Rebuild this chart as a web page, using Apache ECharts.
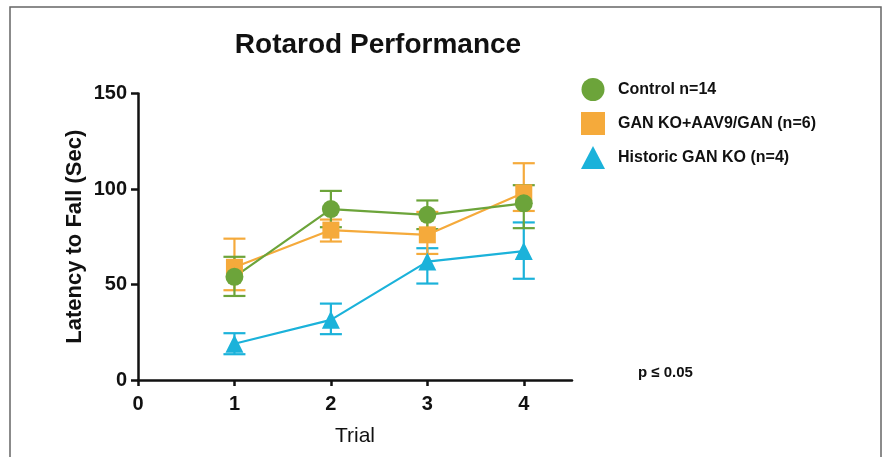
<!DOCTYPE html>
<html>
<head>
<meta charset="utf-8">
<script src="https://cdn.jsdelivr.net/npm/echarts@6/dist/echarts.min.js"></script>
<style>
html,body{margin:0;padding:0;background:#fff;}
#chart{width:887px;height:457px;}
</style>
</head>
<body>
<div id="chart"></div>
<script>
// ---- data ----
const trials = [1, 2, 3, 4];
const xTicks = [0, 1, 2, 3, 4];
const yTicks = [0, 50, 100, 150];

const controlName = 'Control n=14';
const controlMean = [54, 89.5, 86.5, 92.5];
const controlLow  = [44, 80, 79, 79.5];
const controlHigh = [64.5, 99, 94, 102];

const ganAavName = 'GAN KO+AAV9/GAN (n=6)';
const ganAavMean = [59, 78.5, 76, 98];
const ganAavLow  = [47, 72.5, 66, 88.5];
const ganAavHigh = [74, 84, 88, 113.5];

const historicName = 'Historic GAN KO (n=4)';
const historicMean = [19, 31.5, 62, 67.5];
const historicLow  = [13.5, 24, 50.5, 53];
const historicHigh = [24.5, 40, 69, 82.5];

// ---- styles ----
const GREEN = '#6ca43a', ORANGE = '#f5aa3b', BLUE = '#1bb2da';
const FONT = '"Liberation Sans", Arial, sans-serif';

function pts(mean){ return trials.map((t,i)=>[t, mean[i]]); }
function errData(low, high){ return trials.map((t,i)=>[t, low[i], high[i]]); }

function errSeries(low, high, color){
  return {
    type: 'custom',
    data: errData(low, high),
    encode: {x: 0, y: [1, 2]},
    silent: true,
    renderItem: function(params, api){
      const x = api.value(0);
      const top = api.coord([x, api.value(2)]);
      const bot = api.coord([x, api.value(1)]);
      const hw = 11;
      const st = {stroke: color, lineWidth: 2.2, fill: null};
      return {
        type: 'group',
        children: [
          {type:'line', shape:{x1:top[0], y1:top[1], x2:bot[0], y2:bot[1]}, style: st},
          {type:'line', shape:{x1:top[0]-hw, y1:top[1], x2:top[0]+hw, y2:top[1]}, style: st},
          {type:'line', shape:{x1:bot[0]-hw, y1:bot[1], x2:bot[0]+hw, y2:bot[1]}, style: st}
        ]
      };
    }
  };
}

function lineSeries(name, mean, color, symbol, size){
  return {
    name: name,
    type: 'line',
    data: pts(mean),
    symbol: symbol,
    symbolSize: size,
    showSymbol: true,
    itemStyle: {color: color, opacity: 1},
    lineStyle: {color: color, width: 2.2},
    emphasis: {disabled: true},
    animation: false
  };
}

const chart = echarts.init(document.getElementById('chart'), null, {renderer: 'canvas'});
chart.setOption({
  animation: false,
  backgroundColor: '#fff',
  grid: {left: 138, right: 315, top: 93.5, bottom: 77},
  legend: {
    orient: 'vertical',
    left: 576, top: 73,
    itemWidth: 24, itemHeight: 23, itemGap: 11,
    selectedMode: false,
    textStyle: {fontFamily: FONT, fontWeight: 'bold', fontSize: 16, color: '#111', padding: [0,0,0,8]},
    data: [
      {name: controlName, icon: 'circle'},
      {name: ganAavName, icon: 'rect'},
      {name: historicName, icon: 'triangle'}
    ]
  },
  xAxis: {
    type: 'value', min: 0, max: 4.5, interval: 1,
    name: 'Trial', nameLocation: 'middle', nameGap: 46,
    nameTextStyle: {fontFamily: FONT, fontSize: 21, color: '#111'},
    axisLine: {lineStyle: {color: '#111', width: 2.5}},
    axisTick: {show: true, length: 6, lineStyle: {color: '#111', width: 2.5}, customValues: xTicks},
    axisLabel: {fontFamily: FONT, fontWeight: 'bold', fontSize: 20, color: '#111', margin: 14, customValues: xTicks},
    splitLine: {show: false}
  },
  yAxis: {
    type: 'value', min: 0, max: 150, interval: 50,
    name: 'Latency to Fall (Sec)', nameLocation: 'middle', nameGap: 52,
    nameTextStyle: {fontFamily: FONT, fontWeight: 'bold', fontSize: 22, color: '#111'},
    axisLine: {show: true, lineStyle: {color: '#111', width: 2.5}},
    axisTick: {show: true, length: 7, lineStyle: {color: '#111', width: 2.5}, customValues: yTicks},
    axisLabel: {fontFamily: FONT, fontWeight: 'bold', fontSize: 20, color: '#111', margin: 11, customValues: yTicks},
    splitLine: {show: false}
  },
  graphic: [
    {type: 'rect', shape: {x: 10, y: 7, width: 871, height: 470}, style: {fill: null, stroke: '#666', lineWidth: 1.5}, silent: true},
    {type: 'text', x: 378, y: 45, style: {text: 'Rotarod Performance', font: 'bold 28px ' + FONT, fill: '#111', align: 'center', verticalAlign: 'middle'}},
    {type: 'text', x: 638, y: 373, style: {text: 'p ≤ 0.05', font: 'bold 15px ' + FONT, fill: '#111', align: 'left', verticalAlign: 'middle'}}
  ],
  series: [
    errSeries(historicLow, historicHigh, BLUE),
    lineSeries(historicName, historicMean, BLUE, 'triangle', 18),
    errSeries(ganAavLow, ganAavHigh, ORANGE),
    lineSeries(ganAavName, ganAavMean, ORANGE, 'rect', 17),
    errSeries(controlLow, controlHigh, GREEN),
    lineSeries(controlName, controlMean, GREEN, 'circle', 18)
  ]
});
</script>
</body>
</html>
